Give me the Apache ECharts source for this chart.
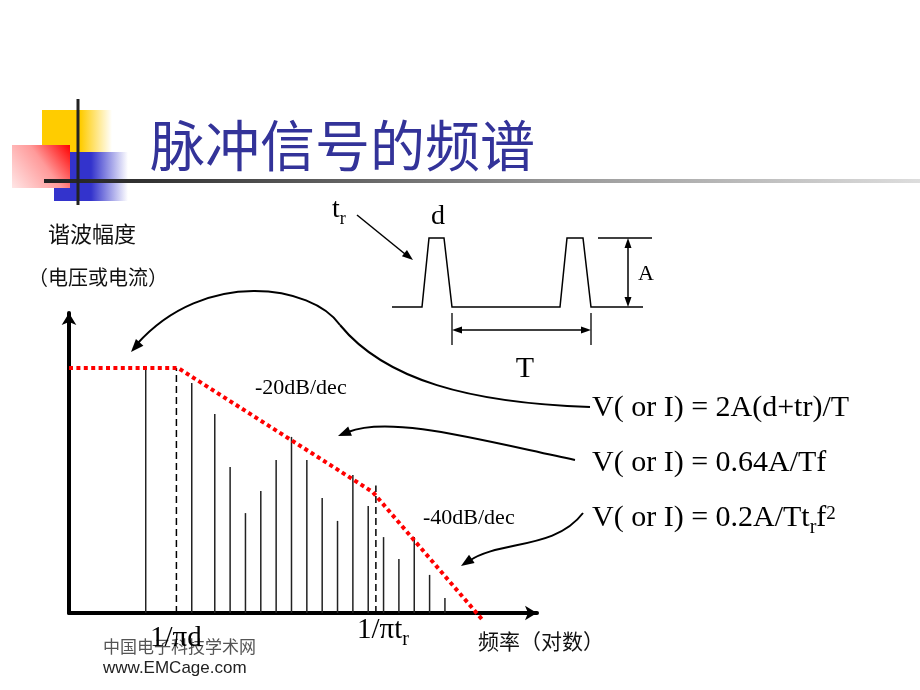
<!DOCTYPE html>
<html>
<head>
<meta charset="utf-8">
<script src="https://cdn.jsdelivr.net/npm/echarts@6/dist/echarts.min.js"></script>
<style>
html,body{margin:0;padding:0;background:#fff;}
#chart{width:920px;height:690px;}
</style>
</head>
<body>
<div id="chart"></div>
<script>
// ---- data ----
const titleText = '脉冲信号的频谱';
const yNameLine1 = '谐波幅度';
const yNameLine2 = '（电压或电流）';
const xName = '频率（对数）';
const siteName = '中国电子科技学术网';
const siteUrl = 'www.EMCage.com';
// harmonic positions (log-frequency units) and amplitudes (relative, 0-100)
const harmonicX = [5, 8, 9.5, 10.5, 11.5, 12.5, 13.5, 14.5, 15.5, 16.5, 17.5, 18.5, 19.5, 20.5, 21.5, 22.5, 23.5, 24.5];
const harmonicAmp = [81.7, 76.7, 66.3, 48.7, 33.3, 40.7, 51.0, 58.7, 51.0, 38.3, 30.7, 46.0, 35.7, 25.3, 18.0, 25.3, 12.7, 5.0];
// envelope (red dotted)
const envelopeX = [0, 7.1, 19.8, 26.9];
const envelopeAmp = [81.7, 81.7, 40.3, -2];
// corner frequencies (dashed)
const cornerX = [7, 20];
const cornerAmp = [81.7, 42.5];
const slopeLabels = ['-20dB/dec', '-40dB/dec'];
const cornerLabels = ['1/πd', '1/πt'];
const formulas = ['V( or I) = 2A(d+tr)/T', 'V( or I) = 0.64A/Tf', 'V( or I) = 0.2A/Tt'];

// ---- helpers ----
const SERIF = '"Liberation Serif", "Times New Roman", serif';
const CJK = '"Noto Sans CJK SC", sans-serif';
const mctx = document.createElement('canvas').getContext('2d');
function tw(text, font) { mctx.font = font; return mctx.measureText(text).width; }
function txt(x, y, text, font, fill, align) {
  align = align || 'left';
  return { type: 'text', x: x, y: y, z: 20, style: { text: text, font: font, fill: fill || '#000',
    align: align, textAlign: align, verticalAlign: 'middle', textVerticalAlign: 'middle' } };
}
// parts: [{t, size, dy}] drawn along a baseline
function run(x, baseline, parts, family) {
  const out = [];
  let cx = x;
  parts.forEach(p => {
    const font = p.size + 'px ' + (family || SERIF);
    out.push(txt(cx, baseline + (p.dy || 0) - 0.32 * p.size, p.t, font, p.fill || '#000'));
    cx += tw(p.t, font);
  });
  return out;
}
function arrowHead(tx, ty, fx, fy, len, hw) {
  const dx = tx - fx, dy = ty - fy, d = Math.hypot(dx, dy);
  const ux = dx / d, uy = dy / d;
  const bx = tx - ux * len, by = ty - uy * len;
  return { type: 'polygon', z: 20, shape: { points: [[tx, ty], [bx - uy * hw, by + ux * hw], [bx + uy * hw, by - ux * hw]] },
    style: { fill: '#000', stroke: null } };
}
function seg(x1, y1, x2, y2, w) {
  return { type: 'line', z: 20, shape: { x1: x1, y1: y1, x2: x2, y2: y2 }, style: { stroke: '#000', lineWidth: w || 1.5 } };
}
function bez(p0, c1, c2, p1, w) {
  return { type: 'bezierCurve', z: 20, shape: { x1: p0[0], y1: p0[1], cpx1: c1[0], cpy1: c1[1], cpx2: c2[0], cpy2: c2[1], x2: p1[0], y2: p1[1] },
    style: { stroke: '#000', lineWidth: w || 2, fill: 'none' } };
}
function lin(x, y, x2, y2, stops) {
  return { type: 'linear', x: x, y: y, x2: x2, y2: y2, colorStops: stops.map(s => ({ offset: s[0], color: s[1] })) };
}

const g = [];
// decoration
g.push({ type: 'rect', z: 1, shape: { x: 42, y: 110, width: 70, height: 55 }, style: { fill: lin(0, 0, 1, 0, [[0, '#FFCC00'], [0.55, '#FFCC00'], [1, '#FFFFFF']]) } });
g.push({ type: 'rect', z: 2, shape: { x: 54, y: 152, width: 74, height: 49 }, style: { fill: lin(0, 0, 1, 0, [[0, '#3333CC'], [0.5, '#3333CC'], [1, '#FFFFFF']]) } });
g.push({ type: 'rect', z: 3, shape: { x: 12, y: 145, width: 58, height: 43 }, style: { fill: lin(1, 0, 0, 1, [[0, '#FF0000'], [0.45, '#FF9A9A'], [1, '#FFE6E6']]) } });
g.push({ type: 'rect', z: 4, shape: { x: 44, y: 179, width: 876, height: 4 }, style: { fill: lin(0, 0, 1, 0, [[0, '#222222'], [0.12, '#333333'], [0.6, '#9a9a9a'], [1, '#dddddd']]) } });
g.push({ type: 'rect', z: 5, shape: { x: 76.5, y: 99, width: 3, height: 106 }, style: { fill: '#222' } });
// title
g.push(txt(150, 145, titleText, 'normal 55px ' + CJK, '#333399'));
// axis names
g.push(txt(48, 234, yNameLine1, '22px ' + CJK, '#111'));
g.push(txt(28, 277, yNameLine2, '20px ' + CJK, '#111'));
g.push(txt(478, 641, xName, '21px ' + CJK, '#111'));
g.push(txt(103, 647, siteName, '17px ' + CJK, '#555'));
g.push(txt(103, 668, siteUrl, '17px "Liberation Sans", Arial, sans-serif', '#222'));
// pulse diagram
g.push({ type: 'polyline', z: 20, shape: { points: [[392, 307], [422, 307], [429, 238], [444, 238], [452, 307], [560, 307], [567, 238], [583, 238], [591, 307], [643, 307]] },
  style: { stroke: '#000', lineWidth: 1.5, fill: 'none' } });
g.push(seg(598, 238, 652, 238, 1.3));
g.push(seg(628, 247, 628, 298, 1.5));
g.push(arrowHead(628, 238, 628, 250, 10, 3.5));
g.push(arrowHead(628, 307, 628, 295, 10, 3.5));
g.push(seg(452, 313, 452, 345, 1.3));
g.push(seg(591, 313, 591, 345, 1.3));
g.push(seg(461, 330, 582, 330, 1.3));
g.push(arrowHead(452, 330, 464, 330, 10, 3.5));
g.push(arrowHead(591, 330, 579, 330, 10, 3.5));
g.push(seg(357, 215, 405, 254, 1.5));
g.push(arrowHead(413, 260, 357, 215, 11, 4));
g.push(...run(332, 219, [{ t: 't', size: 28 }, { t: 'r', size: 18, dy: 6 }]));
g.push(txt(438, 226 - 0.32 * 28, 'd', '28px ' + SERIF, '#000', 'center'));
g.push(txt(638, 281 - 0.32 * 22, 'A', '22px ' + SERIF, '#000'));
g.push(txt(525, 379 - 0.32 * 30, 'T', '30px ' + SERIF, '#000', 'center'));
// slope labels
g.push(...run(255, 395, [{ t: slopeLabels[0], size: 22 }]));
g.push(...run(423, 525, [{ t: slopeLabels[1], size: 22 }]));
// corner labels
g.push(...run(150, 648, [{ t: cornerLabels[0], size: 29 }]));
g.push(...run(357, 640, [{ t: cornerLabels[1], size: 29 }, { t: 'r', size: 20, dy: 6 }]));
// formulas
g.push(...run(592, 418, [{ t: formulas[0], size: 30 }]));
g.push(...run(592, 473, [{ t: formulas[1], size: 30 }]));
g.push(...run(592, 528, [{ t: formulas[2], size: 30 }, { t: 'r', size: 20, dy: 6 }, { t: 'f', size: 30 }, { t: '2', size: 19, dy: -8 }]));
// annotation arrows
g.push(bez([590, 407], [470, 403], [385, 380], [340, 325], 2));
g.push(bez([340, 325], [312, 285], [205, 268], [137, 344], 2));
g.push(arrowHead(131, 352, 200, 275, 13, 5));
g.push(bez([575, 460], [480, 440], [390, 415], [348, 432], 2));
g.push(arrowHead(338, 436, 390, 415, 13, 5));
g.push(bez([583, 513], [555, 550], [500, 540], [469, 561], 2));
g.push(arrowHead(461, 566, 500, 540, 13, 5));

const chart = echarts.init(document.getElementById('chart'), null, { renderer: 'canvas' });
chart.setOption({
  animation: false,
  backgroundColor: '#fff',
  grid: { left: 69, right: 383, top: 313, bottom: 77 },
  xAxis: {
    type: 'value', min: 0, max: 30.5,
    axisLine: { show: true, onZero: false, symbol: ['none', 'arrow'], symbolSize: [11, 12], lineStyle: { color: '#000', width: 4 } },
    axisTick: { show: false }, axisLabel: { show: false }, splitLine: { show: false }
  },
  yAxis: {
    type: 'value', min: 0, max: 100,
    axisLine: { show: true, onZero: false, symbol: ['none', 'arrow'], symbolSize: [11, 12], lineStyle: { color: '#000', width: 4 } },
    axisTick: { show: false }, axisLabel: { show: false }, splitLine: { show: false }
  },
  graphic: { elements: g },
  series: [
    {
      type: 'custom', z: 2,
      data: harmonicX.map((x, i) => [x, harmonicAmp[i]]),
      encode: { x: 0, y: 1 },
      renderItem: function (params, api) {
        const p0 = api.coord([api.value(0), 0]);
        const p1 = api.coord([api.value(0), api.value(1)]);
        return { type: 'line', shape: { x1: p0[0], y1: p0[1], x2: p1[0], y2: p1[1] }, style: { stroke: '#222', lineWidth: 1.5 } };
      }
    },
    {
      type: 'line', z: 3, symbol: 'none', silent: true,
      data: [[cornerX[0], 0], [cornerX[0], cornerAmp[0]]],
      lineStyle: { color: '#000', width: 1.5, type: [7, 4] }
    },
    {
      type: 'line', z: 3, symbol: 'none', silent: true,
      data: [[cornerX[1], 0], [cornerX[1], cornerAmp[1]]],
      lineStyle: { color: '#000', width: 1.5, type: [7, 4] }
    },
    {
      type: 'line', z: 5, symbol: 'none', silent: true, clip: false,
      data: envelopeX.map((x, i) => [x, envelopeAmp[i]]),
      lineStyle: { color: '#FF0000', width: 4, type: [4, 3.4], cap: 'butt' }
    }
  ]
});
</script>
</body>
</html>
